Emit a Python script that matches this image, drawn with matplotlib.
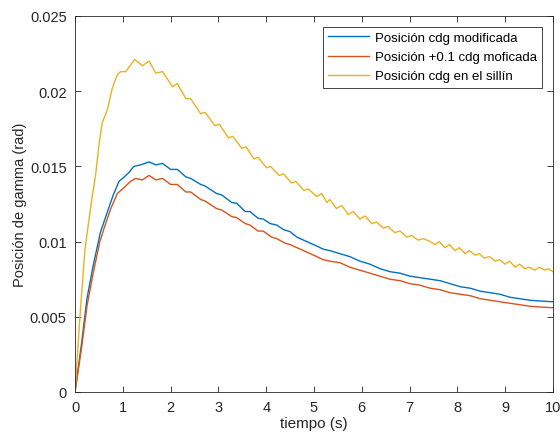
import matplotlib
matplotlib.use("Agg")
import matplotlib.pyplot as plt

# ---- data ----
t_mod = [0, 0.14, 0.25, 0.38, 0.53, 0.67, 0.80, 0.92, 1.03, 1.13, 1.23, 1.37, 1.55, 1.69, 1.83,
         2.00, 2.14, 2.32, 2.42, 2.63, 2.72, 2.96, 3.07, 3.28, 3.38, 3.56, 3.66, 3.83, 3.94,
         4.08, 4.22, 4.36, 4.50, 4.64, 4.78, 4.92, 5.06, 5.19, 5.33, 5.54, 5.75, 5.96, 6.17,
         6.38, 6.59, 6.80, 7.01, 7.22, 7.43, 7.64, 7.85, 8.06, 8.27, 8.48, 8.69, 8.89, 9.10,
         9.31, 9.52, 9.73, 10.0]
g_mod = [0, 0.0033, 0.0062, 0.0084, 0.0106, 0.0119, 0.0131, 0.0140, 0.0143, 0.0146, 0.0150,
         0.0151, 0.0153, 0.0151, 0.0152, 0.0148, 0.0148, 0.0143, 0.0142, 0.0138, 0.0137,
         0.0132, 0.0131, 0.0126, 0.01255, 0.0120, 0.0120, 0.01155, 0.0115, 0.0112, 0.0111,
         0.0108, 0.01066, 0.0103, 0.0101, 0.0099, 0.0097, 0.0095, 0.0094, 0.0092, 0.0090,
         0.0087, 0.0085, 0.0082, 0.0080, 0.0079, 0.0077, 0.0076, 0.0075, 0.0074, 0.0072,
         0.0070, 0.0069, 0.0067, 0.0066, 0.0065, 0.0063, 0.0062, 0.0061, 0.00605, 0.0060]

t_p01 = [0, 0.14, 0.25, 0.38, 0.52, 0.61, 0.75, 0.885, 1.03, 1.16, 1.27, 1.41, 1.55, 1.69, 1.83,
         2.00, 2.14, 2.32, 2.42, 2.63, 2.72, 2.96, 3.07, 3.28, 3.38, 3.56, 3.66, 3.83, 3.94,
         4.11, 4.22, 4.39, 4.50, 4.64, 4.78, 4.92, 5.06, 5.19, 5.33, 5.54, 5.75, 5.96, 6.17,
         6.38, 6.59, 6.80, 7.01, 7.22, 7.43, 7.64, 7.85, 8.06, 8.27, 8.48, 8.69, 8.89, 9.10,
         9.31, 9.52, 9.73, 10.0]
g_p01 = [0, 0.0030, 0.0057, 0.0079, 0.0100, 0.0109, 0.0122, 0.0132, 0.0136, 0.0140, 0.0142,
         0.0141, 0.0144, 0.0141, 0.0142, 0.0138, 0.0138, 0.0133, 0.0133, 0.0128, 0.0127,
         0.0122, 0.0121, 0.01166, 0.0116, 0.0112, 0.0111, 0.0107, 0.0107, 0.0103, 0.0102,
         0.0099, 0.0098, 0.0096, 0.0094, 0.0092, 0.0090, 0.0088, 0.0087, 0.0086, 0.0083,
         0.0081, 0.0079, 0.0077, 0.0075, 0.0074, 0.0072, 0.0071, 0.0069, 0.0068, 0.0066,
         0.0065, 0.0064, 0.0062, 0.0061, 0.0060, 0.0059, 0.0058, 0.0057, 0.00565, 0.0056]

t_sil = [0, 0.105, 0.209, 0.35, 0.43, 0.50, 0.57, 0.68, 0.78, 0.885, 0.955, 1.06, 1.13, 1.25,
         1.41, 1.55, 1.69, 1.83, 2.04, 2.14, 2.32, 2.42, 2.63, 2.72, 2.93, 3.02, 3.21, 3.30,
         3.49, 3.58, 3.74, 3.83, 4.01, 4.09, 4.27, 4.36, 4.53, 4.62, 4.79, 4.88, 5.06, 5.16,
         5.27, 5.33, 5.47, 5.58, 5.72, 5.82, 5.96, 6.07, 6.21, 6.31, 6.45, 6.55, 6.69, 6.80,
         6.94, 7.04, 7.18, 7.29, 7.43, 7.53, 7.62, 7.74, 7.83, 7.95, 8.04, 8.16, 8.25, 8.37,
         8.46, 8.56, 8.67, 8.79, 8.88, 9.00, 9.09, 9.21, 9.30, 9.41, 9.50, 9.62, 9.71, 9.83,
         9.90, 10.0]
g_sil = [0, 0.0051, 0.0095, 0.0128, 0.0144, 0.0164, 0.0179, 0.0188, 0.0202, 0.0211, 0.0213,
         0.0213, 0.0216, 0.0221, 0.0217, 0.0220, 0.0212, 0.0213, 0.0203, 0.0205, 0.0195,
         0.0195, 0.0185, 0.0186, 0.0177, 0.0178, 0.0169, 0.0170, 0.0162, 0.0163, 0.0155,
         0.0156, 0.0149, 0.0150, 0.0144, 0.0145, 0.0139, 0.0140, 0.0134, 0.0135, 0.0130,
         0.0132, 0.0126, 0.0128, 0.0122, 0.0124, 0.0118, 0.0120, 0.0115, 0.0117, 0.0112,
         0.0113, 0.0109, 0.0110, 0.0106, 0.0107, 0.0103, 0.0104, 0.0101, 0.0102, 0.0100,
         0.0098, 0.0100, 0.0096, 0.0098, 0.0094, 0.0096, 0.0092, 0.0094, 0.0091, 0.0092,
         0.0089, 0.0090, 0.0087, 0.0088, 0.0085, 0.0087, 0.0083, 0.0085, 0.0082, 0.0083,
         0.0081, 0.0083, 0.0081, 0.0082, 0.0080]

labels = ["Posición cdg modificada", "Posición +0.1 cdg moficada", "Posición cdg en el sillín"]
colors = ["#0072BD", "#D95319", "#EDB120"]
xticks = list(range(0, 11))
yticks = [0, 0.005, 0.01, 0.015, 0.02, 0.025]
yticklabels = ["0", "0.005", "0.01", "0.015", "0.02", "0.025"]

plt.rcParams['font.family'] = ['Liberation Sans', 'DejaVu Sans']
ink = "#262626"

fig = plt.figure(figsize=(5.6, 4.39), dpi=100)
ax = fig.add_axes([75/560, 1-393/439, (553-75)/560, (393-17)/439])

for (t, g), lab, c in zip([(t_mod, g_mod), (t_p01, g_p01), (t_sil, g_sil)], labels, colors):
    ax.plot(t, g, color=c, lw=1.0, label=lab, solid_joinstyle='round')

ax.set_xlim(0, 10)
ax.set_ylim(0, 0.025)
ax.set_xticks(xticks)
ax.set_yticks(yticks)
ax.set_yticklabels(yticklabels)
ax.tick_params(direction='in', top=True, right=True, length=4, width=0.6,
               colors=ink, labelsize=10.5)
ax.tick_params(axis='x', pad=6)
ax.tick_params(axis='y', pad=6)
for s in ax.spines.values():
    s.set_color(ink)
    s.set_linewidth(0.6)
ax.set_xlabel("tiempo (s)", fontsize=11, color=ink, labelpad=1)
ax.set_ylabel("Posición de gamma (rad)", fontsize=10.5, color=ink, labelpad=2)

leg = ax.legend(loc='upper right', prop={'size': 9.5}, frameon=True, fancybox=False,
                edgecolor=ink, framealpha=1, handlelength=3.1, handletextpad=0.45,
                borderpad=0.4, labelspacing=0.52, borderaxespad=0.8)
leg.get_frame().set_linewidth(0.6)
for txt in leg.get_texts():
    txt.set_color("#000000")

fig.savefig("out.png", dpi=100)
